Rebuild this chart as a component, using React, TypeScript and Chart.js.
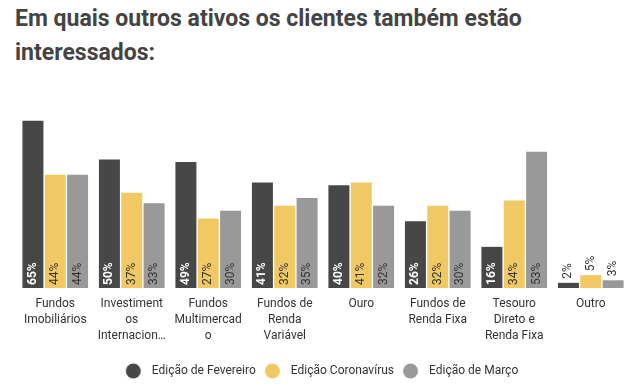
import React, { useEffect, useRef } from "react";
import { Chart, registerables } from "chart.js";

Chart.register(...registerables);

const categories: string[][] = [
  ["Fundos", "Imobiliários"],
  ["Investiment", "os", "Internacion…"],
  ["Fundos", "Multimercad", "o"],
  ["Fundos de", "Renda", "Variável"],
  ["Ouro"],
  ["Fundos de", "Renda Fixa"],
  ["Tesouro", "Direto e", "Renda Fixa"],
  ["Outro"],
];
const seriesNames = ["Edição de Fevereiro", "Edição Coronavírus", "Edição de Março"];
const fevereiro = [65, 50, 49, 41, 40, 26, 16, 2];
const coronavirus = [44, 37, 27, 32, 41, 32, 34, 5];
const marco = [44, 33, 30, 35, 32, 30, 53, 3];
const colors = ["#474747", "#f0c965", "#999999"];
const labelColors = ["#ffffff", "#333333", "#333333"];
const labelWeights = ["bold", "normal", "normal"];

function legendDot(color: string): HTMLCanvasElement {
  const c = document.createElement("canvas");
  c.width = 22;
  c.height = 16;
  const g = c.getContext("2d") as CanvasRenderingContext2D;
  g.fillStyle = color;
  g.beginPath();
  g.arc(9.5, 8, 7.5, 0, Math.PI * 2);
  g.fill();
  return c;
}

const labelPlugin = {
  id: "barLabels",
  afterLayout(chart: any) {
    const lg = chart.legend;
    if (lg) {
      lg.left -= 2;
      lg.right -= 2;
    }
  },
  afterDatasetsDraw(chart: any) {
    const ctx = chart.ctx;
    chart.data.datasets.forEach((ds: any, di: number) => {
      const meta = chart.getDatasetMeta(di);
      meta.data.forEach((bar: any, i: number) => {
        const v = ds.data[i];
        const text = v + "%";
        ctx.save();
        ctx.font = `${labelWeights[di]} 12px Roboto`;
        const w = ctx.measureText(text).width;
        const h = bar.base - bar.y;
        ctx.translate(bar.x, 0);
        ctx.rotate(-Math.PI / 2);
        ctx.textBaseline = "middle";
        ctx.textAlign = "left";
        if (h > w + 10) {
          ctx.fillStyle = labelColors[di];
          ctx.fillText(text, -(bar.base - 3), 0);
        } else {
          ctx.fillStyle = "#333333";
          ctx.font = `normal 12px Roboto`;
          ctx.fillText(text, -(bar.y - 4), 0);
        }
        ctx.restore();
      });
    });
  },
};

export default function App() {
  const ref = useRef<HTMLCanvasElement>(null);
  useEffect(() => {
    const chart = new Chart(ref.current as HTMLCanvasElement, {
      type: "bar",
      data: {
        labels: categories,
        datasets: [fevereiro, coronavirus, marco].map((d, i) => ({
          label: seriesNames[i],
          data: d,
          backgroundColor: colors[i],
          borderWidth: 0,
          barPercentage: 0.94,
          categoryPercentage: 0.876,
          pointStyle: legendDot(colors[i]),
        })),
      },
      options: {
        animation: false,
        responsive: false,
        layout: { padding: { top: 108, left: 17, right: 11, bottom: 0 } },
        plugins: {
          legend: {
            position: "bottom",
            labels: {
              usePointStyle: true,
              pointStyleWidth: 22,
              boxHeight: 12,
              padding: 7,
              color: "#333333",
              font: { family: "Roboto", size: 12 },
            },
          },
          tooltip: { enabled: false },
        },
        scales: {
          x: {
            grid: { display: false },
            border: { display: false },
            ticks: {
              color: "#333333",
              font: { family: "Roboto", size: 12, lineHeight: 1.33 },
              maxRotation: 0,
              autoSkip: false,
              padding: 0,
            },
            afterFit: (scale: any) => {
              scale.height = 70;
            },
          },
          y: { display: false, min: 0, max: 70 },
        },
      },
      plugins: [labelPlugin],
    });
    return () => chart.destroy();
  }, []);
  return (
    <div style={{ position: "absolute", left: 0, top: 0, width: 640, height: 387, background: "#fff" }}>
      <div
        style={{
          position: "absolute",
          left: 15,
          top: 2,
          width: 560,
          fontFamily: "Roboto",
          fontWeight: "bold",
          fontSize: 23,
          lineHeight: "34px",
          color: "#444444",
        }}
      >
        Em quais outros ativos os clientes também estão interessados:
      </div>
      <canvas ref={ref} width={640} height={387} style={{ position: "absolute", left: 0, top: 0 }} />
    </div>
  );
}
